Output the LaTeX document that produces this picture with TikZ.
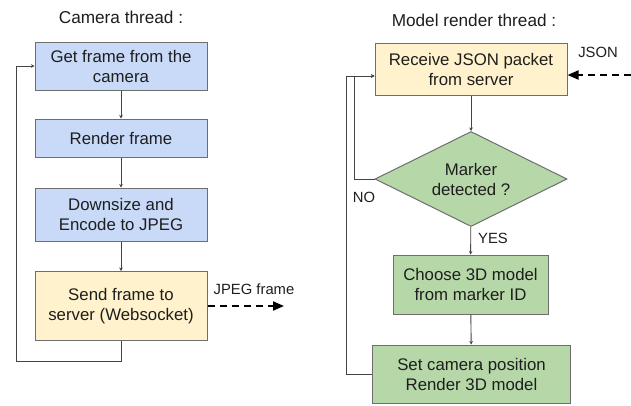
\documentclass[tikz,border=0pt]{standalone}
\usepackage{fontspec}
\setmainfont{Liberation Sans}
\usetikzlibrary{shapes.geometric,arrows.meta,calc}
\definecolor{bluefill}{HTML}{C9DAF8}
\definecolor{yellowfill}{HTML}{FFF2CC}
\definecolor{greenfill}{HTML}{B6D7A8}
\definecolor{edgegray}{HTML}{6E6E6E}
\definecolor{linegray}{HTML}{444444}
\definecolor{txt}{HTML}{1E1E1E}
\tikzset{
  box/.style={draw=edgegray, line width=1pt, align=center, inner sep=0pt,
    font=\fontsize{16.8}{20}\selectfont, text=txt},
  bluebox/.style={box, fill=bluefill},
  yellowbox/.style={box, fill=yellowfill},
  greenbox/.style={box, fill=greenfill},
  title/.style={font=\fontsize{17.2}{20}\selectfont, text=txt, inner sep=0pt},
  lbl/.style={font=\fontsize{14.8}{17}\selectfont, text=txt, inner sep=0pt},
  arr/.style={draw=linegray, line width=0.9pt, -{Stealth[length=3.5pt,width=3.5pt]}},
  dasharr/.style={draw=black, line width=2pt, dash pattern=on 7pt off 5pt,
    -{Triangle[length=11pt,width=9pt]}},
}
\begin{document}
\begin{tikzpicture}[x=1pt,y=-1pt]
\useasboundingbox (0,0) rectangle (631,405);
% titles
\node[title] (t1) at (121,17) {Camera thread :};
\node[title] (t2) at (474,20) {Model render thread :};
% left column
\node[bluebox, minimum width=172pt, minimum height=48pt] (b1) at (121,66) {Get frame from the\\camera};
\node[bluebox, minimum width=172pt, minimum height=38pt] (b2) at (121,138) {Render frame};
\node[bluebox, minimum width=172pt, minimum height=53pt] (b3) at (121,214.5) {Downsize and\\Encode to JPEG};
\node[yellowbox, minimum width=172pt, minimum height=69pt] (b4) at (121,306) {Send frame to\\server (Websocket)};
\coordinate (cl) at (16,361);
\coordinate (jpegend) at (284,306);
\draw[arr] (b1) -- (b2);
\draw[arr] (b2) -- (b3);
\draw[arr] (b3) -- (b4);
\draw[arr] (b4.south) |- (cl) |- (b1.west);
\draw[dasharr] (b4.east) -- (jpegend);
\node[lbl] (jl) at (254,289) {JPEG frame};
% right column
\node[yellowbox, minimum width=192pt, minimum height=52pt] (r1) at (471,69) {Receive JSON packet\\from server};
\node[box, fill=greenfill, diamond, minimum width=192pt, minimum height=95pt, shape aspect=2] (dia) at (471,179) {Marker\\detected ?};
\node[greenbox, minimum width=155pt, minimum height=59pt] (r2) at (470.5,284.5) {Choose 3D model\\from marker ID};
\node[greenbox, minimum width=198pt, minimum height=58pt] (r3) at (471.5,374) {Set camera position\\Render 3D model};
\coordinate (nocol) at (354,76);
\coordinate (loopcol) at (346,76);
\coordinate (jsonstart) at (631,75);
\draw[arr] (r1) -- (dia);
\draw[arr] (dia) -- (r2);
\draw[arr] (r2) -- (r3);
\draw[arr] (dia.west) -| (nocol) -- (nocol -| r1.west);
\draw[arr] (r3.west) -| (loopcol) -- (loopcol -| r1.west);
\draw[dasharr] (jsonstart) -- (jsonstart -| r1.east);
\node[lbl] (no) at (364,197) {NO};
\node[lbl] (yes) at (493,238) {YES};
\node[lbl] (js) at (598,52) {JSON};
\end{tikzpicture}
\end{document}
